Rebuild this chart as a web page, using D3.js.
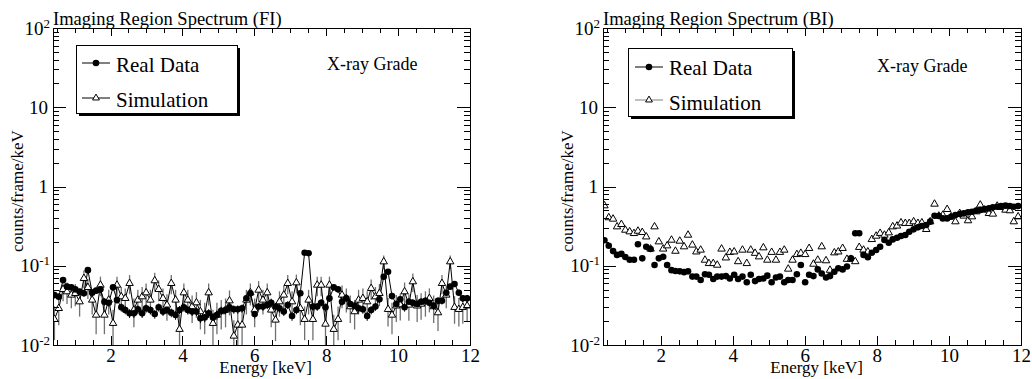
<!DOCTYPE html>
<html><head><meta charset="utf-8">
<script src="https://cdn.jsdelivr.net/npm/d3@7"></script>
<style>body{margin:0;background:#fff;} svg{display:block;font-family:"Liberation Serif","Times New Roman",serif;}</style>
</head><body><svg id="c" width="1032" height="379"></svg>
<script>
const energies = [0.44,0.56,0.68,0.79,0.91,1.02,1.14,1.26,1.37,1.49,
1.60,1.72,1.83,1.95,2.07,2.18,2.30,2.41,2.53,2.65,
2.76,2.88,2.99,3.11,3.23,3.34,3.46,3.57,3.69,3.81,
3.92,4.04,4.15,4.27,4.39,4.50,4.62,4.73,4.85,4.96,
5.08,5.20,5.31,5.43,5.54,5.66,5.78,5.89,6.01,6.12,
6.24,6.36,6.47,6.59,6.70,6.82,6.93,7.05,7.17,7.28,
7.40,7.51,7.63,7.75,7.86,7.98,8.09,8.21,8.33,8.44,
8.56,8.67,8.79,8.90,9.02,9.14,9.25,9.37,9.48,9.60,
9.72,9.83,9.95,10.06,10.18,10.30,10.41,10.53,10.64,10.76,
10.87,10.99,11.11,11.22,11.34,11.45,11.57,11.69,11.80,11.92];

const fiReal = [0.0428,0.0407,0.066,0.0545,0.0534,0.0504,0.0471,0.0449,0.088,0.0458,
0.0485,0.0504,0.0352,0.0342,0.0534,0.037,0.0299,0.0277,0.0251,0.0251,
0.0282,0.0251,0.029,0.0277,0.0246,0.0299,0.0264,0.0277,0.0256,0.0239,
0.0277,0.0299,0.0277,0.0264,0.0264,0.0217,0.0223,0.0251,0.0223,0.0239,
0.0271,0.0277,0.0299,0.0282,0.0282,0.029,0.0388,0.0449,0.0246,0.0305,
0.0305,0.032,0.0342,0.0305,0.029,0.0264,0.032,0.0232,0.0277,0.0449,
0.146,0.144,0.0305,0.0305,0.0342,0.0299,0.0388,0.0534,0.0504,0.0352,
0.0388,0.0329,0.0312,0.029,0.0282,0.0232,0.0277,0.0305,0.0377,0.0728,
0.0841,0.0415,0.0329,0.0377,0.0299,0.0352,0.0342,0.0329,0.0352,0.0362,
0.0342,0.0312,0.0362,0.0362,0.0457,0.0545,0.0589,0.0457,0.0388,0.0388];

const fiRealErr = [0.0041,0.004,0.0051,0.0047,0.0046,0.0045,0.0043,0.0042,0.0059,0.0043,
0.0044,0.0045,0.0038,0.0037,0.0046,0.0038,0.0035,0.0033,0.0032,0.0032,
0.0034,0.0032,0.0034,0.0033,0.0031,0.0035,0.0032,0.0033,0.0032,0.0031,
0.0033,0.0035,0.0033,0.0032,0.0032,0.0029,0.003,0.0032,0.003,0.0031,
0.0033,0.0033,0.0035,0.0034,0.0034,0.0034,0.0039,0.0042,0.0031,0.0035,
0.0035,0.0036,0.0037,0.0035,0.0034,0.0032,0.0036,0.003,0.0033,0.0042,
0.0076,0.0076,0.0035,0.0035,0.0037,0.0035,0.0039,0.0046,0.0045,0.0038,
0.0039,0.0036,0.0035,0.0034,0.0034,0.003,0.0033,0.0035,0.0039,0.0054,
0.0058,0.0041,0.0036,0.0039,0.0035,0.0038,0.0037,0.0036,0.0038,0.0038,
0.0037,0.0035,0.0038,0.0038,0.0043,0.0047,0.0049,0.0043,0.0039,0.0039];

const fiSim = [0.0211,0.029,0.0504,0.0471,0.0428,0.0449,0.0352,0.0694,0.0534,0.037,
0.0239,0.0571,0.0239,0.037,0.0188,0.0571,0.0407,0.0388,0.06,0.0277,
0.037,0.0407,0.0457,0.037,0.0649,0.0504,0.0388,0.032,0.06,0.037,
0.0158,0.0457,0.037,0.0305,0.0342,0.0264,0.0239,0.0457,0.0188,0.0239,
0.0264,0.0277,0.0362,0.013,0.0179,0.0179,0.037,0.0457,0.0277,0.0494,
0.037,0.0457,0.0277,0.0207,0.0352,0.0428,0.06,0.0352,0.0611,0.029,
0.0211,0.037,0.0211,0.0571,0.0571,0.0184,0.0571,0.0158,0.0211,0.0428,
0.0388,0.0305,0.0264,0.037,0.0388,0.0352,0.0519,0.0407,0.0449,0.1125,
0.0282,0.0239,0.0312,0.0323,0.0471,0.032,0.063,0.0312,0.0329,0.0352,
0.0388,0.0305,0.0256,0.06,0.0428,0.1125,0.0299,0.0282,0.0299,0.0312];

const fiSimErr = [0.0096,0.0112,0.0148,0.0143,0.0137,0.014,0.0124,0.0174,0.0153,0.0127,
0.0102,0.0158,0.0102,0.0127,0.009,0.0158,0.0133,0.013,0.0162,0.011,
0.0127,0.0133,0.0141,0.0127,0.0168,0.0148,0.013,0.0118,0.0162,0.0127,
0.0083,0.0141,0.0127,0.0115,0.0122,0.0107,0.0102,0.0141,0.009,0.0102,
0.0107,0.011,0.0126,0.0075,0.0088,0.0088,0.0127,0.0141,0.011,0.0147,
0.0127,0.0141,0.011,0.0095,0.0124,0.0137,0.0162,0.0124,0.0163,0.0112,
0.0096,0.0127,0.0096,0.0158,0.0158,0.0089,0.0158,0.0083,0.0096,0.0137,
0.013,0.0115,0.0107,0.0127,0.013,0.0124,0.015,0.0133,0.014,0.0221,
0.0111,0.0102,0.0117,0.0119,0.0143,0.0118,0.0166,0.0117,0.012,0.0124,
0.013,0.0115,0.0106,0.0162,0.0137,0.0221,0.0114,0.0111,0.0114,0.0117];

const biReal = [0.21,0.179,0.153,0.137,0.141,0.129,0.119,0.119,0.187,0.124,
0.174,0.163,0.102,0.124,0.130,0.102,0.088,0.086,0.085,0.083,
0.085,0.073,0.073,0.066,0.078,0.077,0.068,0.073,0.073,0.074,
0.069,0.077,0.068,0.073,0.062,0.077,0.064,0.068,0.069,0.075,
0.062,0.071,0.073,0.062,0.066,0.066,0.078,0.102,0.062,0.077,
0.074,0.090,0.080,0.071,0.074,0.084,0.093,0.090,0.098,0.124,
0.257,0.257,0.137,0.128,0.146,0.158,0.174,0.211,0.195,0.215,
0.226,0.237,0.244,0.269,0.288,0.305,0.318,0.327,0.360,0.428,
0.425,0.396,0.396,0.416,0.436,0.450,0.458,0.472,0.481,0.496,
0.505,0.520,0.530,0.546,0.556,0.567,0.573,0.567,0.556,0.567];

const biSim = [0.573,0.405,0.389,0.311,0.333,0.282,0.269,0.256,0.274,0.264,
0.232,0.163,0.311,0.201,0.163,0.179,0.211,0.153,0.205,0.174,
0.244,0.183,0.150,0.158,0.118,0.107,0.107,0.102,0.163,0.126,
0.148,0.150,0.113,0.158,0.107,0.158,0.144,0.130,0.169,0.118,
0.148,0.118,0.148,0.158,0.091,0.118,0.139,0.144,0.139,0.166,
0.105,0.118,0.174,0.116,0.088,0.146,0.150,0.166,0.121,0.121,
0.113,0.171,0.158,0.150,0.215,0.237,0.257,0.244,0.261,0.311,
0.318,0.349,0.343,0.343,0.360,0.343,0.349,0.288,0.360,0.601,
0.425,0.436,0.515,0.416,0.360,0.458,0.425,0.371,0.416,0.481,
0.585,0.505,0.458,0.450,0.567,0.546,0.505,0.496,0.360,0.416];

const xMajorTicks = [2,4,6,8,10,12];
const xMinorTicks = [0.5,1,1.5,2.5,3,3.5,4.5,5,5.5,6.5,7,7.5,8.5,9,9.5,10.5,11,11.5];
const yMajorTicks = [0.01,0.1,1,10,100];
const yTickBase = ["10","10","1","10","10"];
const yTickSup = ["-2","-1","","","2"];
const titles = ["Imaging Region Spectrum (FI)","Imaging Region Spectrum (BI)"];
const legendLabels = ["Real Data","Simulation"];
const gradeLabel = "X-ray Grade";
const xTitle = "Energy [keV]";
const yTitle = "counts/frame/keV";

const yMinorTicks = [];
[0.01,0.1,1,10].forEach(d => { for (let m = 2; m <= 9; m++) yMinorTicks.push(+(d*m).toPrecision(3)); });

const plotTop = 28, plotBottom = 345;
const svg = d3.select("#c");

const panels = [
  {x0:53, x1:470, title:titles[0], real:fiReal, realErr:fiRealErr, sim:fiSim, simErr:fiSimErr, lines:true,
   leg:{x:76, y:45, w:161, h:68, r1:63, r2:98, lx:82, tx:116, b1:71.5, b2:106.5, simCol:"#000"}, gradeY:70},
  {x0:603, x1:1021, title:titles[1], real:biReal, sim:biSim, lines:false,
   leg:{x:628, y:48, w:164, h:68, r1:67, r2:100, lx:635, tx:669, b1:75, b2:110, simCol:"#808080"}, gradeY:72}
];

const tri = d3.symbol().type(d3.symbolTriangle).size(24);

function styleAxis(s){ s.select(".domain").remove(); s.attr("font-family",null).attr("font-size",null); s.selectAll("line").attr("stroke","#000").attr("shape-rendering","crispEdges"); }

panels.forEach((p, pi) => {
  const x = d3.scaleLinear().domain([0.4,12]).range([p.x0,p.x1]);
  const y = d3.scaleLog().domain([0.01,100]).range([plotBottom,plotTop]);
  const g = svg.append("g");

  svg.append("clipPath").attr("id","clip"+pi).append("rect")
    .attr("x",p.x0).attr("y",plotTop).attr("width",p.x1-p.x0).attr("height",plotBottom-plotTop);
  const dg = g.append("g").attr("clip-path",`url(#clip${pi})`);

  const idx = d3.range(energies.length);
  if (p.lines) {
    // simulation error bars
    dg.append("g").selectAll("line").data(idx).join("line")
      .attr("x1",i=>x(energies[i])).attr("x2",i=>x(energies[i]))
      .attr("y1",i=>y(Math.max(p.sim[i]-p.simErr[i],0.005))).attr("y2",i=>y(p.sim[i]+p.simErr[i]))
      .attr("stroke","#707070").attr("stroke-width",1.3);
    dg.append("path").datum(idx)
      .attr("d",d3.line().x(i=>x(energies[i])).y(i=>y(p.sim[i])))
      .attr("fill","none").attr("stroke","#000").attr("stroke-width",1);
    dg.append("g").selectAll("line").data(idx).join("line")
      .attr("x1",i=>x(energies[i])).attr("x2",i=>x(energies[i]))
      .attr("y1",i=>y(p.real[i]-p.realErr[i])).attr("y2",i=>y(p.real[i]+p.realErr[i]))
      .attr("stroke","#000").attr("stroke-width",1);
    dg.append("path").datum(idx)
      .attr("d",d3.line().x(i=>x(energies[i])).y(i=>y(p.real[i])))
      .attr("fill","none").attr("stroke","#000").attr("stroke-width",1);
  }
  dg.append("g").selectAll("path").data(idx).join("path")
    .attr("d",tri).attr("transform",i=>`translate(${x(energies[i])},${y(p.sim[i])})`)
    .attr("fill","#fff").attr("stroke","#000").attr("stroke-width",1);
  dg.append("g").selectAll("circle").data(idx).join("circle")
    .attr("cx",i=>x(energies[i])).attr("cy",i=>y(p.real[i])).attr("r",3.3).attr("fill","#000");

  // axes
  g.append("g").attr("transform",`translate(0,${plotBottom})`)
    .call(d3.axisBottom(x).tickValues(xMajorTicks).tickSize(-9).tickPadding(4).tickFormat(d3.format("d")))
    .call(styleAxis).selectAll("text").attr("font-size",19).attr("fill","#000");
  g.append("g").attr("transform",`translate(0,${plotBottom})`)
    .call(d3.axisBottom(x).tickValues(xMinorTicks).tickSize(-5).tickFormat("")).call(styleAxis);
  g.append("g").attr("transform",`translate(0,${plotTop})`)
    .call(d3.axisTop(x).tickValues(xMajorTicks).tickSize(-8).tickFormat("")).call(styleAxis);
  g.append("g").attr("transform",`translate(0,${plotTop})`)
    .call(d3.axisTop(x).tickValues(xMinorTicks).tickSize(-5).tickFormat("")).call(styleAxis);
  g.append("g").attr("transform",`translate(${p.x0},0)`)
    .call(d3.axisLeft(y).tickValues(yMajorTicks).tickSize(-13).tickFormat("")).call(styleAxis);
  g.append("g").attr("transform",`translate(${p.x0},0)`)
    .call(d3.axisLeft(y).tickValues(yMinorTicks).tickSize(-6).tickFormat("")).call(styleAxis);
  g.append("g").attr("transform",`translate(${p.x1},0)`)
    .call(d3.axisRight(y).tickValues(yMajorTicks).tickSize(-13).tickFormat("")).call(styleAxis);
  g.append("g").attr("transform",`translate(${p.x1},0)`)
    .call(d3.axisRight(y).tickValues(yMinorTicks).tickSize(-6).tickFormat("")).call(styleAxis);

  g.append("rect").attr("x",p.x0+0.5).attr("y",plotTop+0.5).attr("width",p.x1-p.x0).attr("height",plotBottom-plotTop)
    .attr("fill","none").attr("stroke","#000").attr("stroke-width",1).attr("shape-rendering","crispEdges");

  // y tick labels
  yMajorTicks.forEach((v,k) => {
    const t = g.append("text").attr("text-anchor","end").attr("font-size",19)
      .attr("x", yTickSup[k] ? p.x0-3 : p.x0-5).attr("y", y(v)+6.5);
    t.append("tspan").text(yTickBase[k]);
    if (yTickSup[k]) t.append("tspan").attr("font-size",13).attr("dy",-7).text(yTickSup[k]);
  });

  g.append("text").attr("x",p.x0).attr("y",25).attr("font-size",18.5).text(p.title);
  g.append("text").attr("transform",`translate(${p.x0-30},252) rotate(-90)`).attr("font-size",17).text(yTitle);
  g.append("text").attr("x",p.x1-158).attr("y",373).attr("text-anchor","end").attr("font-size",17).text(xTitle);
  g.append("text").attr("x",p.x0+274).attr("y",p.gradeY).attr("font-size",18).text(gradeLabel);

  // legend
  const L = p.leg;
  g.append("rect").attr("x",L.x+3).attr("y",L.y+3).attr("width",L.w).attr("height",L.h).attr("fill","#000");
  g.append("rect").attr("x",L.x+0.5).attr("y",L.y+0.5).attr("width",L.w).attr("height",L.h)
    .attr("fill","#fff").attr("stroke","#000").attr("shape-rendering","crispEdges");
  g.append("line").attr("x1",L.lx).attr("x2",L.lx+28).attr("y1",L.r1).attr("y2",L.r1).attr("stroke","#000");
  g.append("circle").attr("cx",L.lx+14).attr("cy",L.r1).attr("r",3.3).attr("fill","#000");
  g.append("line").attr("x1",L.lx).attr("x2",L.lx+28).attr("y1",L.r2).attr("y2",L.r2).attr("stroke",L.simCol);
  g.append("path").attr("d",d3.symbol().type(d3.symbolTriangle).size(20)).attr("transform",`translate(${L.lx+14},${L.r2})`)
    .attr("fill","#fff").attr("stroke","#000");
  g.append("text").attr("x",L.tx).attr("y",L.b1).attr("font-size",21).text(legendLabels[0]);
  g.append("text").attr("x",L.tx).attr("y",L.b2).attr("font-size",21).text(legendLabels[1]);
});
</script></body></html>
